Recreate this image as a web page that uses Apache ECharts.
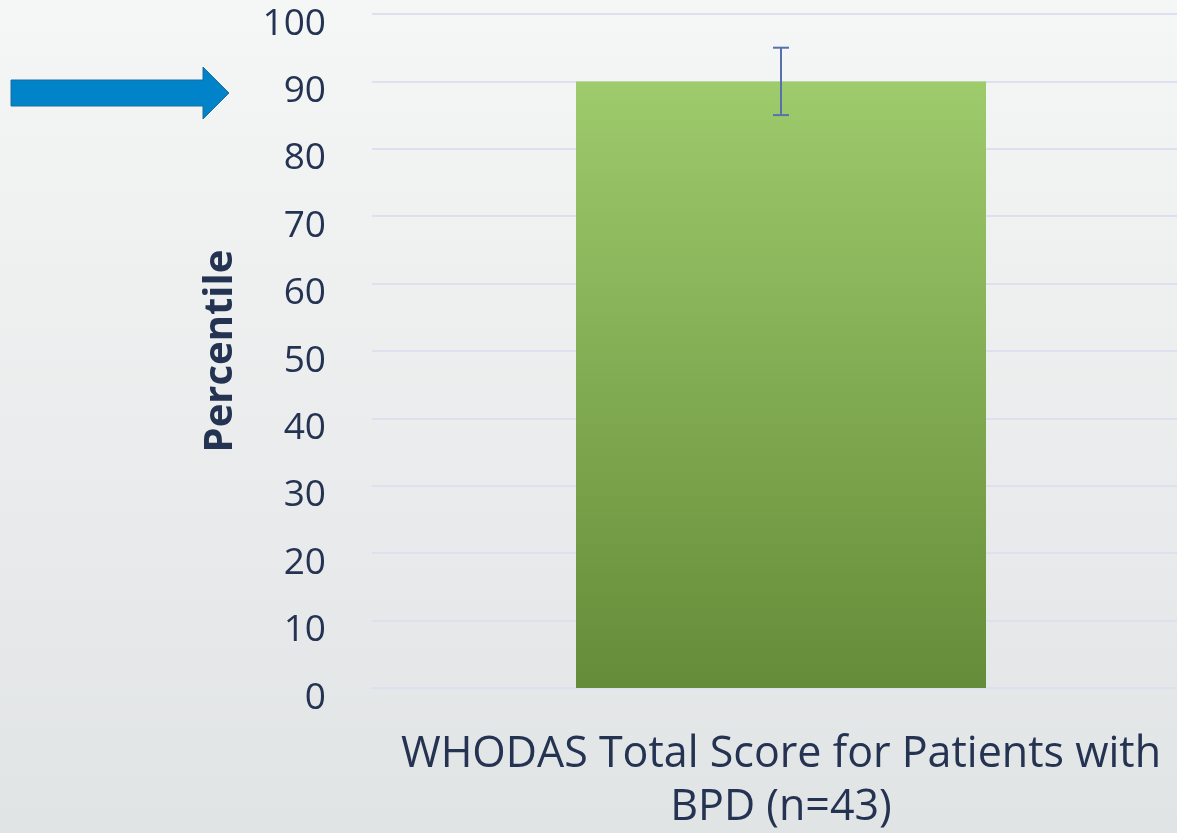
<!DOCTYPE html>
<html>
<head>
<meta charset="utf-8">
<script src="https://cdn.jsdelivr.net/npm/echarts@6/dist/echarts.min.js"></script>
<style>
  html, body { margin: 0; padding: 0; }
  #whodasChart { width: 1177px; height: 833px; }
</style>
</head>
<body>
<div id="whodasChart"></div>
<script>
// chart values
const categories = ['WHODAS Total Score for Patients with\nBPD (n=43)'];
const percentileValues = [90];
const errorLow = [85];
const errorHigh = [95];
const yTicks = [0, 10, 20, 30, 40, 50, 60, 70, 80, 90, 100];

const textColor = '#253352';
const chartDom = document.getElementById('whodasChart');
const whodasChart = echarts.init(chartDom);

var errorData = [];
for (let i = 0; i <= categories.length - 1; i++) {
  errorData.push([i, errorLow[i], errorHigh[i]]);
}

whodasChart.setOption({
  backgroundColor: new echarts.graphic.LinearGradient(0, 0, 0, 1, [
    {offset: 0, color: '#f5f6f6'},
    {offset: 1, color: '#e1e4e5'}
  ]),
  animation: false,
  grid: {
    left: 372,
    right: -13,
    top: 14,
    bottom: 145,
    containLabel: false,
    outerBoundsMode: 'none'
  },
  xAxis: {
    type: 'category',
    data: categories,
    axisLine: {show: false},
    axisTick: {show: false},
    axisLabel: {
      color: textColor,
      fontFamily: 'Open Sans',
      fontSize: 43,
      lineHeight: 53,
      margin: 40
    }
  },
  yAxis: {
    type: 'value',
    min: yTicks[0],
    max: yTicks[yTicks.length - 1],
    interval: 10,
    name: 'Percentile',
    nameLocation: 'middle',
    nameGap: 131,
    nameTextStyle: {
      color: textColor,
      fontFamily: 'Open Sans',
      fontWeight: 'bold',
      fontSize: 40
    },
    axisLine: {show: false},
    axisTick: {show: false},
    axisLabel: {
      color: textColor,
      fontFamily: 'Open Sans',
      fontSize: 37,
      margin: 46,
      verticalAlign: 'top',
      lineHeight: 20
    },
    splitLine: {
      lineStyle: {color: '#dde0ee', width: 2}
    }
  },
  series: [
    {
      name: 'Percentile',
      type: 'bar',
      barWidth: 410,
      itemStyle: {
        color: new echarts.graphic.LinearGradient(0, 0, 0, 1, [
          {offset: 0, color: '#9ecb6c'},
          {offset: 1, color: '#658c39'}
        ])
      },
      data: percentileValues
    },
    {
      name: 'error',
      type: 'custom',
      renderItem: function (params, api) {
        const x = api.value(0);
        const lo = api.coord([x, api.value(1)]);
        const hi = api.coord([x, api.value(2)]);
        const capHalf = 8;
        const style = {stroke: '#5870ac', lineWidth: 2};
        return {
          type: 'group',
          children: [
            {type: 'line', shape: {x1: hi[0], y1: hi[1], x2: lo[0], y2: lo[1]}, style: style},
            {type: 'line', shape: {x1: hi[0] - capHalf, y1: hi[1], x2: hi[0] + capHalf, y2: hi[1]}, style: style},
            {type: 'line', shape: {x1: lo[0] - capHalf, y1: lo[1], x2: lo[0] + capHalf, y2: lo[1]}, style: style}
          ]
        };
      },
      encode: {x: 0, y: [1, 2]},
      z: 10,
      data: errorData
    }
  ],
  graphic: [
    {
      type: 'polygon',
      shape: {
        points: [[11, 80], [203, 80], [203, 67], [229, 93], [203, 119], [203, 106], [11, 106]]
      },
      style: {fill: '#0083c8', stroke: '#1d6d9e', lineWidth: 1}
    }
  ]
});
</script>
</body>
</html>
